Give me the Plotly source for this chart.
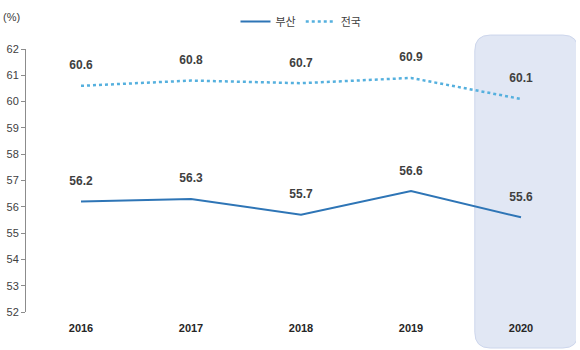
import plotly.graph_objects as go

years = ["2016", "2017", "2018", "2019", "2020"]
busan = [56.2, 56.3, 55.7, 56.6, 55.6]
national = [60.6, 60.8, 60.7, 60.9, 60.1]
y_ticks = list(range(52, 63))

fig = go.Figure()

# highlight box for 2020 (rounded)
x0, x1 = 3.58, 4.52
y0, y1 = -0.137, 1.053
rx, ry = 0.14, 0.06
path = (f"M {x0+rx},{y1} L {x1-rx},{y1} Q {x1},{y1} {x1},{y1-ry} "
        f"L {x1},{y0+ry} Q {x1},{y0} {x1-rx},{y0} L {x0+rx},{y0} "
        f"Q {x0},{y0} {x0},{y0+ry} L {x0},{y1-ry} Q {x0},{y1} {x0+rx},{y1} Z")
fig.add_shape(type="path", path=path, xref="x", yref="paper",
              fillcolor="#e1e7f4", line=dict(color="#cdd6ec", width=1), layer="below")

label_font = dict(size=12, color="#404040", family="Liberation Sans")
fig.add_trace(go.Scatter(
    x=list(range(len(years))), y=busan, name="부산", mode="lines+markers+text",
    line=dict(color="#2e75b6", width=2),
    marker=dict(size=20, color="rgba(0,0,0,0)"),
    text=[f"<b>{v:.1f}</b>" for v in busan], textposition="top center",
    textfont=label_font,
))
fig.add_trace(go.Scatter(
    x=list(range(len(years))), y=national, name="전국", mode="lines+markers+text",
    line=dict(color="#55b0de", width=2.5, dash="dot"),
    marker=dict(size=20, color="rgba(0,0,0,0)"),
    text=[f"<b>{v:.1f}</b>" for v in national], textposition="top center",
    textfont=label_font,
))

fig.update_layout(
    width=580, height=350,
    margin=dict(l=26, r=4, t=49, b=38, autoexpand=False),
    plot_bgcolor="white", paper_bgcolor="white",
    font=dict(family="Liberation Sans", color="#404040", size=11),
    showlegend=True,
    legend=dict(orientation="h", x=0.5, xanchor="center", y=1.105, yanchor="middle",
                font=dict(family="Noto Sans CJK KR", size=11, color="#404040"),
                bgcolor="rgba(0,0,0,0)"),
    xaxis=dict(
        range=[-0.5, 4.5], tickmode="array", tickvals=list(range(len(years))),
        ticktext=[f"<b>{y}</b>" for y in years], showgrid=False, zeroline=False,
        showline=False, ticks="", ticklabelstandoff=8,
        tickfont=dict(size=11, color="#262626"),
    ),
    yaxis=dict(
        range=[52, 62], tickmode="array", tickvals=y_ticks,
        showgrid=False, zeroline=False, showline=True, linecolor="#8c8c8c",
        linewidth=1, ticks="outside", ticklen=4, tickcolor="#8c8c8c",
        tickfont=dict(size=11, color="#404040"),
    ),
    annotations=[dict(text="(%)", xref="paper", yref="paper", x=-0.045, y=1.12,
                      xanchor="left", yanchor="middle", showarrow=False,
                      font=dict(size=11, color="#404040"))],
)

fig.write_html("out.html")
